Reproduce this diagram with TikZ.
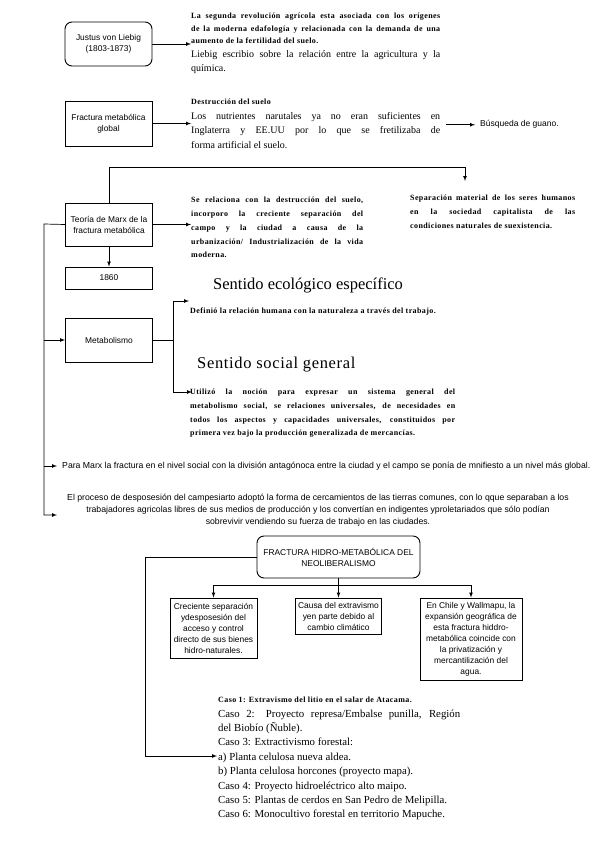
\documentclass[tikz,border=0pt]{standalone}
\usepackage{fontspec}
\setmainfont{Liberation Serif}
\newfontfamily\boxfont{Liberation Sans}
\newfontfamily\spacedfont[LetterSpace=5]{Liberation Serif}
\usetikzlibrary{positioning,arrows,shapes}
\setlength{\parindent}{0pt}
\setlength{\parskip}{0pt}
\newcommand{\smallspaced}{\spacedfont\bfseries\fontsize{8}{12.5}\selectfont}
\newcommand{\bodysize}{\fontsize{10}{14}\selectfont}
\newcommand{\headsize}{\fontsize{16.5}{19}\selectfont}

\begin{document}
\begin{tikzpicture}[x=1pt,y=-1pt,>=latex,
    every node/.style={inner sep=0pt},
    concept/.style={draw, line width=0.9pt, minimum width=87pt, minimum height=44pt,
        align=center, font=\boxfont\fontsize{8.4}{11}\selectfont},
    roundconcept/.style={concept, rounded corners=7pt},
    note/.style={anchor=north west, align=justify},
    link/.style={->, line width=0.7pt}]
    \useasboundingbox (0,0) rectangle (599,848);

    % boxes
    \node[roundconcept] (justus) at (108.5,44) {Justus von Liebig\\(1803-1873)};
    \node[concept, minimum height=45pt] (fglobal) at (108.5,123.5) {Fractura metabólica\\global};
    \node[concept, minimum height=43pt] (teoria) at (109,224.5) {Teoría de Marx de la\\fractura metabólica};
    \node[concept, minimum height=22pt] (year) at (109,278) {1860};
    \node[concept] (meta) at (109,340) {Metabolismo};
    \node[roundconcept, minimum width=163pt, minimum height=42pt] (hidro) at (338.5,557)
        {FRACTURA HIDRO-METABÓLICA DEL\\NEOLIBERALISMO};
    \node[concept, minimum height=60pt] (boxa) at (213.5,628)
        {Creciente separación\\ydesposesión del\\acceso y control\\directo de sus bienes\\hidro-naturales.};
    \node[concept, minimum width=86pt, minimum height=36pt] (boxb) at (338.5,616)
        {Causa del extravismo\\yen parte debido al\\cambio climático};
    \node[concept, minimum width=102pt, minimum height=82pt] (boxc) at (471,639)
        {En Chile y Wallmapu, la\\expansión geográfica de\\esta fractura hiddro-\\metabólica coincide con\\la privatización y\\mercantilización del\\agua.};

    % texts
    \node[note, text width=249pt] (liebigtxt) at (191,13)
        {{\smallspaced La segunda revolución agrícola esta asociada con los orígenes\linebreak
        de la moderna edafología y relacionada con la demanda de una\linebreak
        aumento de la fertilidad del suelo.\par}
        {\bodysize Liebig escribio sobre la relación entre la agricultura y la\linebreak química.\par}};
    \node[note, text width=249pt] (suelotxt) at (191,99)
        {{\smallspaced Destrucción del suelo\par}
        {\bodysize\setlength{\baselineskip}{14.5pt}Los nutrientes narutales ya no eran suficientes en\linebreak
        Inglaterra y EE.UU por lo que se fretilizaba de\linebreak
        forma artificial el suelo.\par}};
    \node[anchor=base west, font=\boxfont\fontsize{8.5}{10}\selectfont] (guano) at (480,127) {Búsqueda de guano.};
    \node[note, text width=172pt, font=\smallspaced\setlength{\baselineskip}{13.8pt}] (relaciontxt) at (191,197)
        {Se relaciona con la destrucción del suelo,\linebreak
        incorporo la creciente separación del\linebreak
        campo y la ciudad a causa de la\linebreak
        urbanización/ Industrialización de la vida\linebreak
        moderna.\par};
    \node[note, text width=165pt, font=\smallspaced\setlength{\baselineskip}{14pt}] (separaciontxt) at (410,195)
        {Separación material de los seres humanos\linebreak
        en la sociedad capitalista de las\linebreak
        condiciones naturales de suexistencia.\par};
    \node[anchor=base west, font=\headsize] (ecologico) at (213,289) {Sentido ecológico específico};
    \node[anchor=base west, font=\smallspaced] (defintxt) at (190,313)
        {Definió la relación humana con la naturaleza a través del trabajo.};
    \node[anchor=base west, font=\headsize\addfontfeature{LetterSpace=4}] (social) at (197,368) {Sentido social general};
    \node[note, text width=265pt, font=\smallspaced\setlength{\baselineskip}{13.7pt}] (utiltxt) at (190,389)
        {Utilizó la noción para expresar un sistema general del\linebreak
        metabolismo social, se relaciones universales, de necesidades en\linebreak
        todos los aspectos y capacidades universales, constituidos por\linebreak
        primera vez bajo la producción generalizada de mercancías.\par};
    \node[anchor=base west, font=\boxfont\fontsize{8.7}{10}\selectfont] (marxtxt) at (62,468)
        {Para Marx la fractura en el nivel social con la división antagónoca entre la ciudad y el campo se ponía de mnifiesto a un nivel más global.};
    \node[align=center, font=\boxfont\fontsize{8.7}{12}\selectfont] (procesotxt) at (318,510)
        {El proceso de desposesión del campesiarto adoptó la forma de cercamientos de las tierras comunes, con lo qque separaban a los\\
        trabajadores agricolas libres de sus medios de producción y los convertían en indigentes yproletariados que sólo podían\\
        sobrevivir vendiendo su fuerza de trabajo en las ciudades.};
    \node[note, text width=242pt, font=\fontsize{10.8}{14.4}\selectfont] (casostxt) at (218,697)
        {{\smallspaced Caso 1: Extravismo del litio en el salar de Atacama.\par}
        Caso 2: Proyecto represa/Embalse punilla, Región\linebreak del Biobío (Ñuble).\par
        Caso 3: Extractivismo forestal:\par
        a) Planta celulosa nueva aldea.\par
        b) Planta celulosa horcones (proyecto mapa).\par
        Caso 4: Proyecto hidroeléctrico alto maipo.\par
        Caso 5: Plantas de cerdos en San Pedro de Melipilla.\par
        Caso 6: Monocultivo forestal en territorio Mapuche.\par};

    % connectors
    \coordinate (topbend) at (465,167);
    \coordinate (sepend) at (465,181);
    \coordinate (spine) at (44,224);
    \coordinate (marxtip) at (57,466);
    \coordinate (procesotip) at (57,515);
    \coordinate (fork) at (173,340);
    \coordinate (ecoend) at (189,301);
    \coordinate (socend) at (192,392);
    \coordinate (junction) at (338.5,585);
    \coordinate (hbend) at (145,756);
    \coordinate (casotip) at (217,756);

    \draw[link] (justus.east) -- (justus.east -| liebigtxt.west);
    \draw[link] (fglobal.east) -- (fglobal.east -| suelotxt.west);
    \draw[link, shorten <=6pt, shorten >=5pt] (suelotxt.east |- guano.west) -- (guano.west);
    \draw[link] (teoria.east) -- (teoria.east -| relaciontxt.west);
    \draw[link] (teoria.north) |- (topbend) -- (sepend);
    \draw[link] (teoria.south) -- (year.north);
    \draw[link] (teoria.west) -- (spine) |- (procesotip);
    \draw[link] (spine |- meta.west) -- (meta.west);
    \draw[link] (spine |- marxtip) -- (marxtip);
    \draw[line width=0.7pt] (meta.east) -- (fork);
    \draw[link] (fork) |- (ecoend);
    \draw[link] (fork) |- (socend);
    \draw[link] (hidro.south) -- (boxb.north);
    \draw[link] (junction) -| (boxa.north);
    \draw[link] (junction) -| (boxc.north);
    \draw[link] (hidro.west) -| (hbend) -- (casotip);
\end{tikzpicture}
\end{document}
